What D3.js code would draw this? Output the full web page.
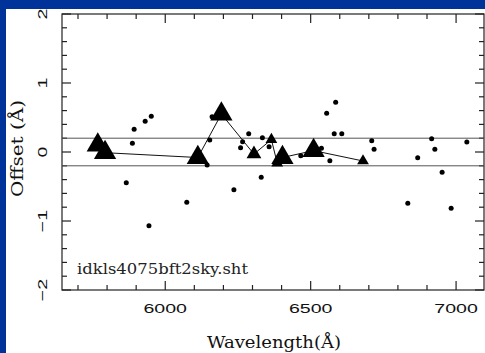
<!DOCTYPE html>
<html><head><meta charset="utf-8">
<script src="https://cdn.jsdelivr.net/npm/d3@7"></script>
<style>html,body{margin:0;padding:0;background:#003399;}svg{display:block;}</style>
</head><body>
<svg id="chart" width="485" height="353"></svg>
<script>
// ---- data ----
const triWave   = [5768, 5793, 6112, 6193, 6305, 6365, 6385, 6403, 6510, 6680];
const triOffset = [0.10, -0.01, -0.08, 0.55, -0.03, 0.18, -0.16, -0.08, 0.02, -0.13];
const triWeight = [3, 3, 3, 3, 2, 1, 1, 3, 3, 1];

const dotWave   = [5866, 5887, 5893, 5931, 5944, 5952, 6074, 6144, 6153, 6161, 6236, 6259, 6266, 6287,
                   6330, 6334, 6357, 6466, 6537, 6555, 6566, 6581, 6586, 6607, 6710, 6718, 6834, 6868,
                   6916, 6927, 6952, 6983, 7037];
const dotOffset = [-0.445, 0.126, 0.329, 0.445, -1.068, 0.517, -0.729, -0.188, 0.174, 0.512, -0.546, 0.062, 0.149, 0.265,
                   -0.367, 0.207, 0.077, -0.053, 0.053, 0.560, -0.126, 0.266, 0.720, 0.266, 0.164, 0.039, -0.744, -0.082,
                   0.193, 0.039, -0.295, -0.816, 0.145];

const bandLevels = [-0.2, 0.2];
const xMajorTicks = [6000, 6500, 7000];
const yMajorTicks = [-2, -1, 0, 1, 2];
const xLabel = "Wavelength(Å)";
const yLabel = "Offset (Å)";
const fileLabel = "idkls4075bft2sky.sht";

// ---- layout ----
const svg = d3.select("#chart");
const L = 62, R = 484, T = 14, B = 290;
const x = d3.scaleLinear().domain([5645, 7096]).range([L, R]);
const y = d3.scaleLinear().domain([-2, 2]).range([B, T]);
const triSize = d3.scaleOrdinal().domain([1, 2, 3]).range([60, 95, 215]);

svg.append("rect").attr("x", 6).attr("y", 9).attr("width", 479).attr("height", 344).attr("fill", "#fff");

const fmt = d => d < 0 ? "\u2212" + Math.abs(d) : String(d);

// axes (ticks inward on all four sides)
const xMinor = d3.range(5700, 7100, 100);
const yMinor = d3.range(-2, 2.001, 0.2).map(v => +v.toFixed(1));
function isMajorX(v){ return xMajorTicks.includes(v); }
function isMajorY(v){ return yMajorTicks.some(m => Math.abs(m - v) < 1e-6); }

const axB = d3.axisBottom(x).tickValues(xMinor).tickSizeInner(0).tickSizeOuter(0).tickFormat("");
const g = svg.append("g").attr("class", "axes").attr("stroke", "#222");
// frame
g.append("rect").attr("x", L).attr("y", T).attr("width", R - L).attr("height", B - T)
  .attr("fill", "none").attr("stroke", "#222").attr("stroke-width", 1.2);

const xTickG = g.append("g");
xMinor.forEach(v => {
  const len = isMajorX(v) ? 9 : 5;
  xTickG.append("line").attr("x1", x(v)).attr("x2", x(v)).attr("y1", B).attr("y2", B - len).attr("stroke-width", 1.2);
  xTickG.append("line").attr("x1", x(v)).attr("x2", x(v)).attr("y1", T).attr("y2", T + len).attr("stroke-width", 1.2);
});
const yTickG = g.append("g");
yMinor.forEach(v => {
  const len = isMajorY(v) ? 9 : 5;
  yTickG.append("line").attr("y1", y(v)).attr("y2", y(v)).attr("x1", L).attr("x2", L + len).attr("stroke-width", 1.2);
  yTickG.append("line").attr("y1", y(v)).attr("y2", y(v)).attr("x1", R).attr("x2", R - len).attr("stroke-width", 1.2);
});

// tick labels
const tickFont = "'Liberation Sans', Arial, sans-serif";
svg.append("g").selectAll("text").data(xMajorTicks).join("text")
  .attr("transform", d => `translate(${x(d)},313) scale(1.45,1)`)
  .attr("text-anchor", "middle").attr("font-family", tickFont).attr("font-size", 13.5)
  .attr("fill", "#111").text(fmt);
svg.append("g").selectAll("text").data(yMajorTicks).join("text")
  .attr("transform", d => `translate(47,${y(d)}) rotate(-90) scale(1.45,1)`)
  .attr("text-anchor", "middle").attr("font-family", tickFont).attr("font-size", 13.5)
  .attr("fill", "#111").text(fmt);

// band lines
svg.append("g").selectAll("line").data(bandLevels).join("line")
  .attr("x1", L).attr("x2", R).attr("y1", d => y(d)).attr("y2", d => y(d))
  .attr("stroke", "#555").attr("stroke-width", 1);

// connecting line
const triData = triWave.map((w, i) => ({w, o: triOffset[i], s: triWeight[i]}));
svg.append("path").datum(triData)
  .attr("d", d3.line().x(d => x(d.w)).y(d => y(d.o)))
  .attr("fill", "none").attr("stroke", "#111").attr("stroke-width", 1);

// dots
svg.append("g").selectAll("circle").data(dotWave.map((w, i) => ({w, o: dotOffset[i]}))).join("circle")
  .attr("cx", d => x(d.w)).attr("cy", d => y(d.o)).attr("r", 2.5).attr("fill", "#000");

// triangles
svg.append("g").selectAll("path").data(triData).join("path")
  .attr("transform", d => `translate(${x(d.w)},${y(d.o)})`)
  .attr("d", d => d3.symbol(d3.symbolTriangle, triSize(d.s))())
  .attr("fill", "#000");

// labels
const serif = "'DejaVu Serif', serif";
svg.append("text").attr("x", 274).attr("y", 348).attr("text-anchor", "middle")
  .attr("font-family", serif).attr("font-size", 16).attr("fill", "#111")
  .attr("textLength", 134).attr("lengthAdjust", "spacingAndGlyphs").text(xLabel);
svg.append("text").attr("transform", "translate(23,148.5) rotate(-90)").attr("text-anchor", "middle")
  .attr("font-family", serif).attr("font-size", 16).attr("fill", "#111")
  .attr("textLength", 97).attr("lengthAdjust", "spacingAndGlyphs").text(yLabel);
svg.append("text").attr("x", 77).attr("y", 274)
  .attr("font-family", serif).attr("font-size", 14).attr("fill", "#222")
  .attr("textLength", 171).attr("lengthAdjust", "spacingAndGlyphs").text(fileLabel);
</script>
</body></html>
